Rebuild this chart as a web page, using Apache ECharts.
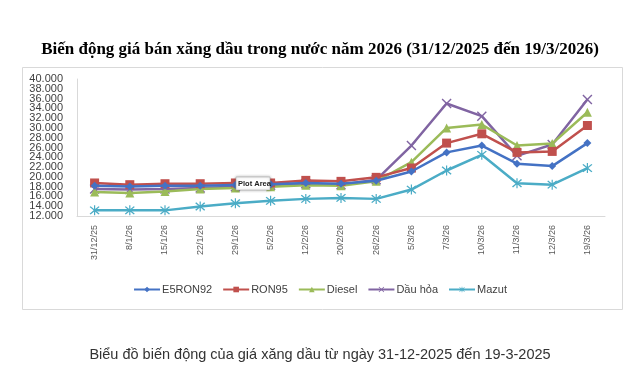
<!DOCTYPE html>
<html><head><meta charset="utf-8">
<script src="https://cdn.jsdelivr.net/npm/echarts@6/dist/echarts.min.js"></script>
<style>html,body{margin:0;padding:0;background:#fff}#c{width:640px;height:380px}</style>
</head><body><div id="c"></div>
<script>
const categories = ['31/12/25','8/1/26','15/1/26','22/1/26','29/1/26','5/2/26','12/2/26','20/2/26','26/2/26','5/3/26','7/3/26','10/3/26','11/3/26','12/3/26','19/3/26'];
const e5ron92 = [18200, 18050, 18200, 18200, 18350, 18500, 18750, 18600, 19200, 21100, 25000, 26400, 22700, 22200, 26900];
const ron95   = [18750, 18400, 18600, 18600, 18750, 18750, 19280, 19080, 19900, 21800, 26900, 28800, 25000, 25200, 30500];
const diesel  = [16900, 16700, 17000, 17500, 17700, 18000, 18300, 18200, 19100, 23000, 30000, 30700, 26400, 26800, 33200];
const dauHoa  = [17500, 17400, 17500, 17700, 18000, 18300, 18600, 18400, 19400, 26400, 35000, 32400, 24300, 26600, 35800];
const mazut   = [13150, 13150, 13150, 13950, 14600, 15100, 15500, 15700, 15500, 17400, 21300, 24500, 18700, 18400, 21800];
const seriesNames = ['E5RON92','RON95','Diesel','Dầu hỏa','Mazut'];
const yTickLabels = ['12.000','14.000','16.000','18.000','20.000','22.000','24.000','26.000','28.000','30.000','32.000','34.000','36.000','38.000','40.000'];
const yTicks = {min: 12000, max: 40000, interval: 2000};

const X_PATH = 'path://M0,1L1,0L5,4L9,0L10,1L6,5L10,9L9,10L5,6L1,10L0,9L4,5Z';
const AST_PATH = 'path://M0,1L1,0L5,4L9,0L10,1L6,5L10,9L9,10L5,6L1,10L0,9L4,5Z M4.4,-1L5.6,-1L5.6,11L4.4,11Z';
const colors = ['#4472C4','#C0504D','#9BBB59','#8064A2','#4BACC6'];
const symbols = ['diamond','rect','triangle',X_PATH,AST_PATH];
const sizes = [8,9,9,10,10];
const datas = [e5ron92, ron95, diesel, dauHoa, mazut];

const chart = echarts.init(document.getElementById('c'));
chart.setOption({
  animation: false,
  backgroundColor: '#fff',
  title: {
    text: 'Biến động giá bán xăng dầu trong nước năm 2026 (31/12/2025 đến 19/3/2026)',
    left: 'center', top: 36,
    textStyle: {fontFamily: 'Liberation Serif', fontWeight: 'bold', fontSize: 17, color: '#000'}
  },
  graphic: [
    {type: 'rect', shape: {x: 22.5, y: 67.5, width: 600, height: 242}, style: {fill: 'none', stroke: '#d9d9d9', lineWidth: 1}, z: -1},
    {type: 'text', left: 'center', top: 347, style: {text: 'Biểu đồ biến động của giá xăng dầu từ ngày 31-12-2025 đến 19-3-2025', font: '14.5px "Liberation Sans"', fill: '#333'}},
    {type: 'rect', z: 100, shape: {x: 236, y: 177, width: 34, height: 13}, style: {fill: '#fff', stroke: '#aaa', lineWidth: 0.6, shadowBlur: 3, shadowColor: 'rgba(0,0,0,0.3)'}},
    {type: 'text', z: 101, x: 238, y: 180, style: {text: 'Plot Area', font: 'bold 7.5px "Liberation Sans"', fill: '#222'}}
  ],
  legend: {
    data: seriesNames, top: 279, left: 'center',
    itemWidth: 26, itemHeight: 7, itemGap: 10,
    textStyle: {fontFamily: 'Liberation Sans', fontSize: 11, color: '#404040', padding: [0,0,0,-3]}
  },
  grid: {left: 77, right: 35, top: 79, bottom: 164, containLabel: false},
  xAxis: {
    type: 'category', data: categories, boundaryGap: true,
    axisLine: {lineStyle: {color: '#d9d9d9'}},
    axisTick: {show: false},
    axisLabel: {rotate: 90, fontSize: 9, color: '#595959', margin: 9, interval: 0, fontFamily: 'Liberation Sans'}
  },
  yAxis: [{
    type: 'value', min: yTicks.min, max: yTicks.max, interval: yTicks.interval,
    axisLine: {show: true, lineStyle: {color: '#d9d9d9'}},
    axisTick: {show: false},
    splitLine: {show: false},
    axisLabel: {show: false}
  }, {
    type: 'category', data: yTickLabels, boundaryGap: false, position: 'left',
    axisLine: {show: false}, axisTick: {show: false}, splitLine: {show: false},
    axisLabel: {interval: 0, fontSize: 11, color: '#404040', margin: 14, fontFamily: 'Liberation Sans'}
  }],
  series: seriesNames.map((n, i) => ({
    name: n, type: 'line', data: datas[i], yAxisIndex: 0,
    symbol: symbols[i], symbolSize: sizes[i],
    showAllSymbol: true,
    lineStyle: {width: 2.5, color: colors[i]},
    itemStyle: {color: colors[i]},
    z: 10 - i
  }))
});
</script></body></html>
